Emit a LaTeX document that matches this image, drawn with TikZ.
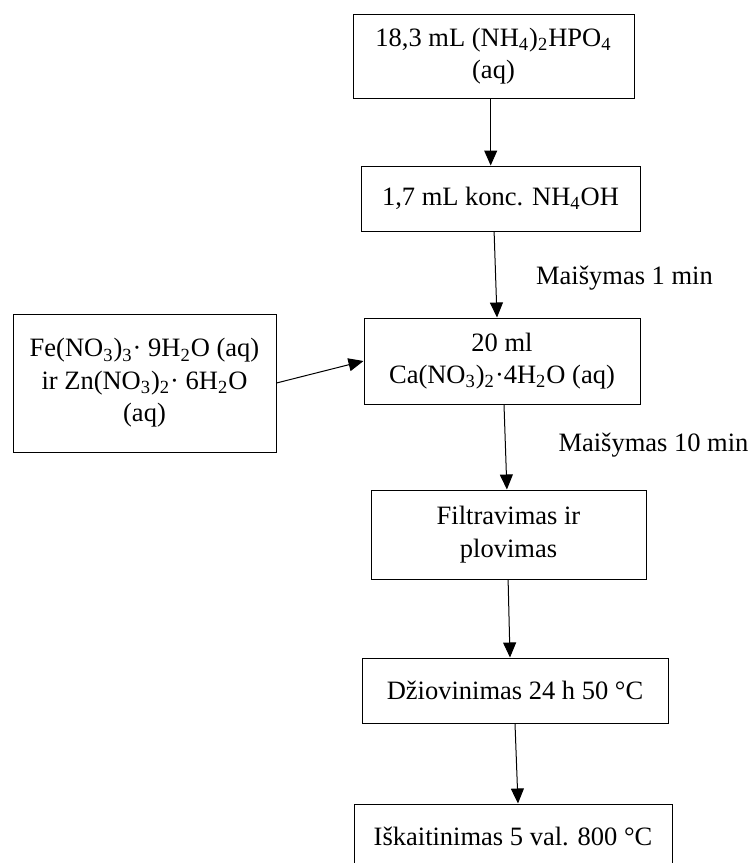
\documentclass[tikz,border=0pt]{standalone}
\usepackage{fontspec}
\setmainfont{Liberation Serif}
\usetikzlibrary{arrows.meta}

\begin{document}
\begin{tikzpicture}[
    x=0.5pt, y=-0.5pt,
    stepbox/.style={rectangle, draw=black, line width=0.5pt, align=center, inner sep=0pt, font=\fontsize{13.25}{16.25}\selectfont},
    flow/.style={-{Triangle[length=7.5pt,width=6.5pt]}, line width=0.5pt},
    note/.style={font=\fontsize{13.25}{16.25}\selectfont, inner sep=0pt, anchor=base}
]
\useasboundingbox (0,0) rectangle (752,863);

% Main column
\node[stepbox, minimum width=140.5pt, minimum height=42pt] (dap) at (493.5,56) {18,3 mL (NH\textsubscript{4})\textsubscript{2}HPO\textsubscript{4}\\(aq)};
\node[stepbox, minimum width=139.5pt, minimum height=32.5pt] (amm) at (500.5,198.5) {1,7 mL konc. NH\textsubscript{4}OH};
\node[stepbox, minimum width=138pt, minimum height=43pt] (cal) at (502,361) {20 ml\\Ca(NO\textsubscript{3})\textsubscript{2}·4H\textsubscript{2}O (aq)};
\node[stepbox, minimum width=137.5pt, minimum height=44.5pt] (filt) at (508.5,534.5) {Filtravimas ir\\plovimas};
\node[stepbox, minimum width=153pt, minimum height=32.5pt] (dry) at (515,690.5) {Džiovinimas 24 h 50 °C};
\node[stepbox, minimum width=159pt, minimum height=32.5pt] (heat) at (513,836.5) {Iškaitinimas 5 val. 800 °C};

% Side input
\node[stepbox, minimum width=131.5pt, minimum height=69pt] (salts) at (144.5,383) {Fe(NO\textsubscript{3})\textsubscript{3}· 9H\textsubscript{2}O (aq)\\ir Zn(NO\textsubscript{3})\textsubscript{2}· 6H\textsubscript{2}O\\(aq)};

% Connections
\draw[flow] ([xshift=-1.4pt]dap.south) -- ([xshift=-4.9pt]amm.north);
\draw[flow] ([xshift=-3.2pt]amm.south) -- ([xshift=-2.5pt]cal.north);
\draw[flow] ([xshift=1pt]cal.south) -- ([xshift=-0.8pt]filt.north);
\draw[flow] ([xshift=-0.2pt]filt.south) -- ([xshift=-2.5pt]dry.north);
\draw[flow] (dry.south) -- ([xshift=2.5pt]heat.north);
\draw[flow] (salts.east) -- (cal.west);

% Mixing labels
\node[note] (mix1) at (624.5,284) {Maišymas 1 min};
\node[note] (mix10) at (653.5,451) {Maišymas 10 min};

\end{tikzpicture}
\end{document}
